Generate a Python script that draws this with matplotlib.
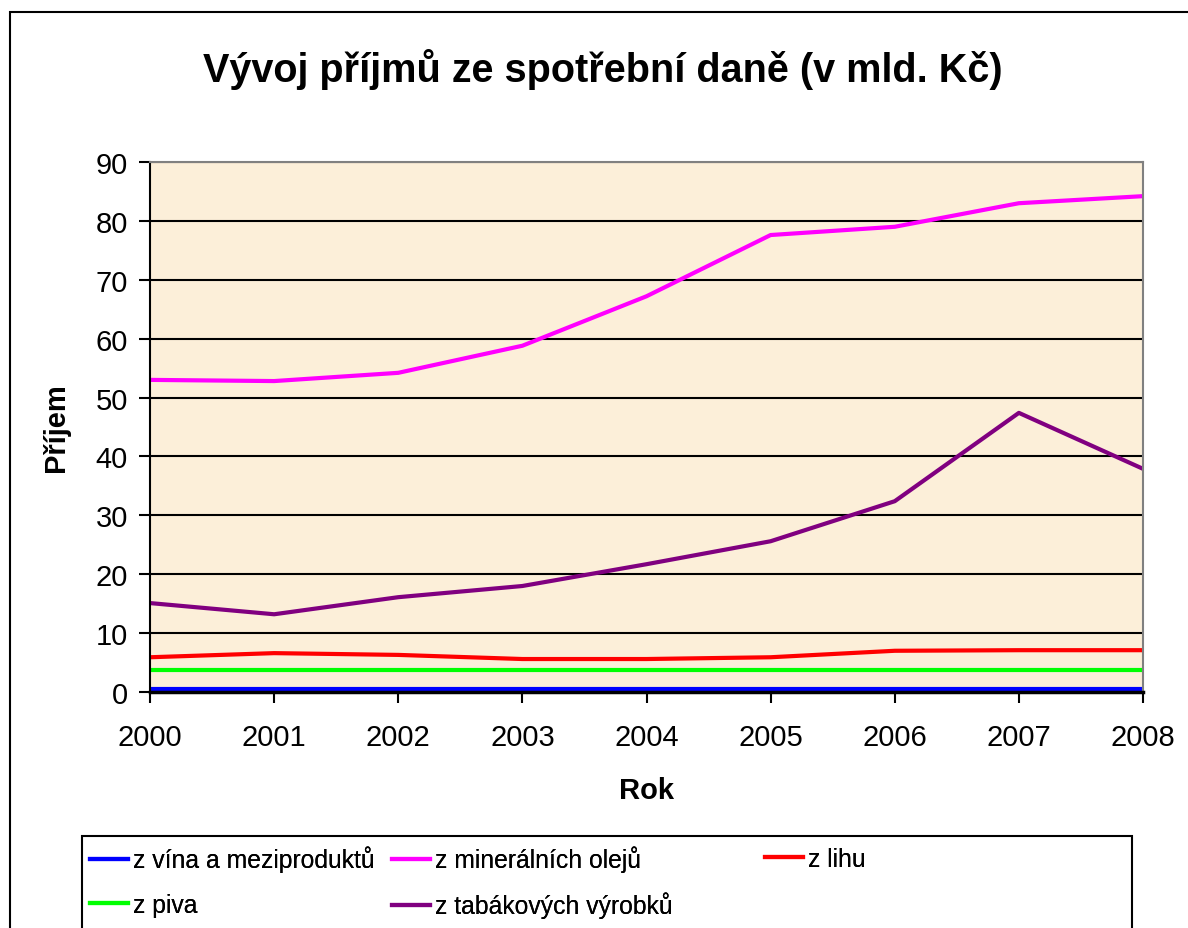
import matplotlib.pyplot as plt
from matplotlib.patches import Rectangle

plt.rcParams['font.family'] = ['Liberation Sans', 'DejaVu Sans']

# --- Data ---
roky = [2000, 2001, 2002, 2003, 2004, 2005, 2006, 2007, 2008]
vino = [0.5, 0.5, 0.5, 0.5, 0.5, 0.5, 0.5, 0.5, 0.5]
mineralni_oleje = [53.0, 52.8, 54.2, 58.8, 67.2, 77.6, 79.0, 83.0, 84.2]
lih = [5.9, 6.6, 6.3, 5.6, 5.6, 5.9, 7.0, 7.1, 7.1]
pivo = [3.7, 3.7, 3.7, 3.7, 3.7, 3.7, 3.7, 3.7, 3.7]
tabak = [15.1, 13.2, 16.1, 18.0, 21.7, 25.6, 32.4, 47.4, 37.9]

popisky = ["z vína a meziproduktů", "z minerálních olejů", "z lihu",
           "z piva", "z tabákových výrobků"]

W, H = 1188, 929

# --- Vykreslení ---
fig = plt.figure(figsize=(W / 100, H / 100), dpi=100)
ax = fig.add_axes([150 / W, 1 - 693 / H, 993 / W, 530 / H])

# ramecek celeho grafu (vpravo a dole oriznuty)
fig.patches.append(Rectangle((10 / W, -0.05), 1.2, 1 - 13 / H + 0.05,
                             transform=fig.transFigure, fill=False,
                             edgecolor="black", linewidth=1.5))

ax.set_facecolor("#fcefd9")
lw = 3
h1, = ax.plot(roky, vino, color="#0000ff", lw=lw)
h2, = ax.plot(roky, mineralni_oleje, color="#ff00ff", lw=lw)
h3, = ax.plot(roky, lih, color="#ff0000", lw=lw)
h4, = ax.plot(roky, pivo, color="#00ff00", lw=lw)
h5, = ax.plot(roky, tabak, color="#800080", lw=lw)

ax.set_xlim(2000, 2008)
ax.set_ylim(0, 90)
ax.set_yticks(range(0, 91, 10))
ax.set_xticks(roky)
ax.yaxis.grid(True, color="black", linewidth=1.5)
ax.set_axisbelow(True)

for s in ["top", "right"]:
    ax.spines[s].set_color("#808080")
    ax.spines[s].set_linewidth(1.5)
ax.spines["left"].set_linewidth(1.5)
ax.spines["bottom"].set_linewidth(2.5)
ax.tick_params(axis="both", direction="out", length=8, width=1.5,
               labelsize=21)
ax.tick_params(axis="x", pad=14)
ax.tick_params(axis="y", pad=8)

ax.set_xlabel("Rok", fontsize=21, fontweight="bold", labelpad=18)
ax.set_ylabel("Příjem", fontsize=21, fontweight="bold", labelpad=18)

fig.text(603 / W, 1 - 70 / H, "Vývoj příjmů ze spotřební daně (v mld. Kč)",
         ha="center", va="center", fontsize=28.5, fontweight="bold")

# legenda: ramecek + polozky po jedne
fig.patches.append(Rectangle((82 / W, -0.05), 1050 / W, 1 - 837 / H + 0.05,
                             transform=fig.transFigure, fill=False,
                             edgecolor="black", linewidth=1.5))
polozky = [(h1, popisky[0], 90, 860), (h2, popisky[1], 392, 860),
           (h3, popisky[2], 765, 860), (h4, popisky[3], 90, 906),
           (h5, popisky[4], 392, 906)]
for h, lb, x0, y0 in polozky:
    leg = fig.legend([h], [lb], loc="center left",
                     bbox_to_anchor=(x0 / W, 1 - y0 / H),
                     fontsize=17.8, frameon=False, handlelength=1.55,
                     handletextpad=0.2, borderaxespad=0, borderpad=0)
    fig.add_artist(leg)

fig.savefig("out.png", dpi=100)
